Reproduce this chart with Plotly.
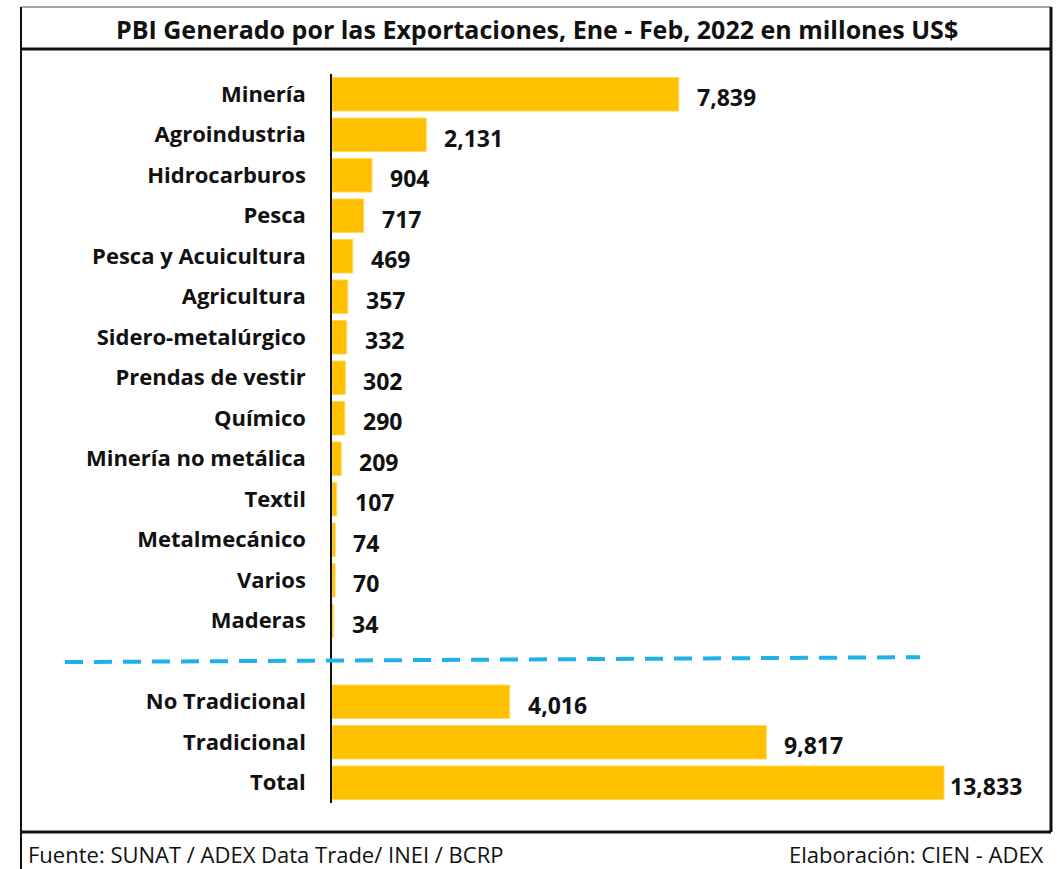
import plotly.graph_objects as go

# datos
sectores = ["Minería", "Agroindustria", "Hidrocarburos", "Pesca", "Pesca y Acuicultura",
            "Agricultura", "Sidero-metalúrgico", "Prendas de vestir", "Químico",
            "Minería no metálica", "Textil", "Metalmecánico", "Varios", "Maderas"]
valores_sector = [7839, 2131, 904, 717, 469, 357, 332, 302, 290, 209, 107, 74, 70, 34]
resumen = ["No Tradicional", "Tradicional", "Total"]
valores_resumen = [4016, 9817, 13833]

titulo = "PBI Generado por las Exportaciones, Ene - Feb, 2022 en millones US$"
fuente = "Fuente: SUNAT / ADEX Data Trade/ INEI / BCRP"
elaboracion = "Elaboración: CIEN - ADEX"

# posiciones de filas (una fila vacia entre sectores y resumen)
n = len(sectores)
pos_sector = list(range(n))
pos_sep = n
pos_resumen = [n + 1 + i for i in range(len(resumen))]
etiquetas = sectores + resumen
valores = valores_sector + valores_resumen
posiciones = pos_sector + pos_resumen

W_FIG, H_FIG = 1061, 869
L, R, T, B = 332, 30, 74, 66
W = W_FIG - L - R
H = H_FIG - T - B
y_lo, y_hi = -0.5, posiciones[-1] + 0.5


def px(x):
    return (x - L) / W


def py(y):
    return 1 - (y - T) / H


FONT = "Open Sans"
AMARILLO = "#FFC000"

fig = go.Figure()
fig.add_trace(go.Bar(
    x=valores, y=posiciones, orientation="h",
    marker=dict(color=AMARILLO, line=dict(color="#FFD966", width=1)),
    width=0.83, hoverinfo="x+y",
))

# etiquetas de valores
for i, (v, p) in enumerate(zip(valores, posiciones)):
    shift = 4 if i == len(valores) - 1 else 16
    fig.add_annotation(x=v, y=p, xref="x", yref="y", text="<b>{:,}</b>".format(v),
                       showarrow=False, xanchor="left", yanchor="middle",
                       xshift=shift, yshift=-3,
                       font=dict(family=FONT, size=23, color="#111111"))

# linea separadora discontinua
fig.add_shape(type="line", xref="paper", yref="paper",
              x0=px(65), x1=px(920),
              y0=(y_hi - pos_sep - 0.02) / (y_hi - y_lo),
              y1=(y_hi - pos_sep + 0.1) / (y_hi - y_lo),
              line=dict(color="#1FB2E8", width=4, dash="18px,11px"))

# marco
borde = [
    (21, 7, 1051, 7, "#8a8a8a", 1.5),
    (21, 7, 21, 869, "#111111", 2),
    (1051, 7, 1051, 832, "#111111", 3),
    (21, 49, 1051, 49, "#111111", 3),
    (21, 832, 1051, 832, "#111111", 3),
]
for x0, y0, x1, y1, c, w in borde:
    fig.add_shape(type="line", xref="paper", yref="paper",
                  x0=px(x0), y0=py(y0), x1=px(x1), y1=py(y1),
                  line=dict(color=c, width=w))

fig.add_annotation(x=px(537), y=py(29), xref="paper", yref="paper",
                   text="<b>" + titulo + "</b>", showarrow=False,
                   xanchor="center", yanchor="middle",
                   font=dict(family=FONT, size=25, color="#111111"))
fig.add_annotation(x=px(26), y=py(854), xref="paper", yref="paper",
                   text=fuente, showarrow=False, xanchor="left", yanchor="middle",
                   font=dict(family=FONT, size=22, color="#111111"))
fig.add_annotation(x=px(1046), y=py(854), xref="paper", yref="paper",
                   text=elaboracion, showarrow=False, xanchor="right", yanchor="middle",
                   font=dict(family=FONT, size=22, color="#111111"))

fig.update_layout(
    width=W_FIG, height=H_FIG,
    margin=dict(l=L, r=R, t=T, b=B),
    paper_bgcolor="white", plot_bgcolor="white",
    showlegend=False,
    xaxis=dict(visible=False, range=[0, 13833 * W / 612]),
    yaxis=dict(range=[y_hi, y_lo], tickvals=posiciones,
               ticktext=["<b>" + e + "</b>" for e in etiquetas],
               showline=True, linecolor="#111111", linewidth=1.5,
               showgrid=False, zeroline=False, ticks="", ticklabelstandoff=20,
               tickfont=dict(family=FONT, size=22, color="#111111")),
)

fig.write_html("out.html", config={"displayModeBar": False},
               post_script="document.body.style.margin='0';")
